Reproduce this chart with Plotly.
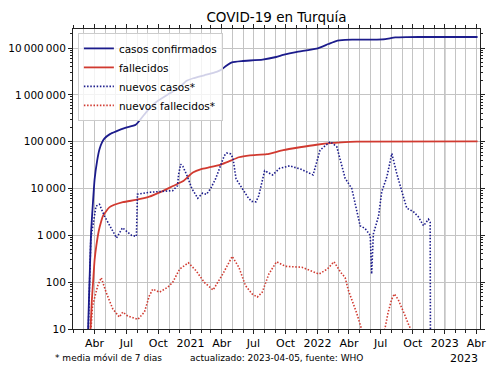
import plotly.graph_objects as go

# ---- data ----
cum_cases_dates = ["2020-03-13", "2020-03-16", "2020-03-19", "2020-03-22", "2020-03-26", "2020-04-01",
                   "2020-04-08", "2020-04-15", "2020-04-22", "2020-04-29", "2020-05-15", "2020-05-31",
                   "2020-06-30", "2020-07-28", "2020-08-28", "2020-09-26", "2020-11-03", "2020-12-01",
                   "2020-12-20", "2021-01-09", "2021-02-10", "2021-03-17", "2021-04-01", "2021-04-15",
                   "2021-04-30", "2021-05-29", "2021-07-27", "2021-09-04", "2021-09-24", "2021-10-31",
                   "2021-12-29", "2022-02-01", "2022-02-23", "2022-03-21", "2022-04-10", "2022-06-20",
                   "2022-07-14", "2022-08-12", "2022-09-15", "2022-11-20", "2023-04-05"]
cum_cases = [8, 47, 250, 1200, 3600, 15700,
             38000, 69000, 95000, 116000, 145000, 164000,
             199000, 229000, 435000, 710000, 1080000, 1450000,
             1980000, 2260000, 2620000, 3100000, 3500000, 4250000,
             4950000, 5270000, 5650000, 6430000, 7100000, 8200000,
             9700000, 12200000, 14100000, 14850000, 15050000, 15100000,
             15400000, 16900000, 17150000, 17200000, 17200000]

cum_deaths_dates = ["2020-03-20", "2020-03-24", "2020-03-28", "2020-04-01", "2020-04-06", "2020-04-13",
                    "2020-04-20", "2020-04-25", "2020-05-14", "2020-06-21", "2020-07-28", "2020-09-05",
                    "2020-10-10", "2020-11-12", "2020-12-10", "2021-01-08", "2021-02-01", "2021-02-26",
                    "2021-03-29", "2021-04-20", "2021-05-20", "2021-06-21", "2021-08-08", "2021-09-24",
                    "2021-11-11", "2021-12-29", "2022-02-15", "2022-03-21", "2022-04-04", "2022-05-10",
                    "2023-04-05"]
cum_deaths = [9, 40, 110, 300, 600, 1250,
              2000, 2600, 4000, 5100, 5700, 6700,
              8600, 11300, 14200, 22000, 26000, 28500,
              32500, 37500, 46500, 51000, 54000, 66000,
              76000, 86000, 94000, 98000, 99500, 100500,
              101500]

new_cases_dates = ["2020-03-13", "2020-03-21", "2020-04-05", "2020-04-15", "2020-04-29", "2020-05-15",
                   "2020-06-03", "2020-06-20", "2020-07-01", "2020-07-16", "2020-07-30", "2020-08-02",
                   "2020-09-05", "2020-10-04", "2020-11-11", "2020-11-25", "2020-11-28", "2020-12-04",
                   "2020-12-10", "2020-12-22", "2021-01-05", "2021-01-22", "2021-02-05", "2021-02-16",
                   "2021-02-28", "2021-03-14", "2021-03-28", "2021-04-08", "2021-04-15", "2021-04-26",
                   "2021-05-03", "2021-05-12", "2021-05-23", "2021-06-16", "2021-06-26", "2021-07-08",
                   "2021-07-16", "2021-07-23", "2021-08-02", "2021-08-25", "2021-09-14", "2021-10-13",
                   "2021-11-16", "2021-12-19", "2022-01-08", "2022-02-06", "2022-02-25", "2022-03-21",
                   "2022-04-09", "2022-05-03", "2022-05-17", "2022-06-01", "2022-06-05", "2022-06-10",
                   "2022-06-25", "2022-07-04", "2022-07-19", "2022-08-02", "2022-08-16", "2022-09-04",
                   "2022-09-14", "2022-10-03", "2022-10-17", "2022-11-01", "2022-11-15", "2022-11-20",
                   "2022-11-21"]
new_cases = [5, 830, 4200, 4600, 2600, 1600,
             880, 1450, 1250, 1000, 950, 7600,
             8300, 8700, 9000, 11500, 20000, 33000,
             30000, 19000, 10000, 6200, 8000, 7500,
             10000, 16000, 30000, 50000, 57000, 55000,
             45000, 16000, 12000, 6300, 5300, 5200,
             7000, 11000, 24000, 19500, 27000, 30500,
             25500, 19500, 66000, 100000, 78000, 16500,
             10000, 1600, 1400, 1000, 150, 1070,
             2600, 8500, 18000, 56000, 21000, 6700,
             3800, 3200, 2500, 1600, 2200, 1900,
             1]

new_deaths_dates = ["2020-03-19", "2020-03-26", "2020-04-10", "2020-04-20", "2020-05-04", "2020-05-23",
                    "2020-06-11", "2020-06-21", "2020-07-05", "2020-08-03", "2020-08-22", "2020-09-05",
                    "2020-09-15", "2020-10-04", "2020-10-28", "2020-11-11", "2020-12-01", "2020-12-26",
                    "2021-01-17", "2021-02-10", "2021-03-07", "2021-04-05", "2021-05-01", "2021-05-20",
                    "2021-06-08", "2021-06-27", "2021-07-12", "2021-07-26", "2021-08-14", "2021-09-05",
                    "2021-10-01", "2021-11-17", "2022-01-05", "2022-01-29", "2022-02-17", "2022-03-08",
                    "2022-03-21", "2022-03-30", "2022-04-23", "2022-05-07", "2022-05-18", "2022-07-03",
                    "2022-07-13", "2022-07-22", "2022-08-01", "2022-08-09", "2022-08-20", "2022-08-28",
                    "2022-09-08", "2022-09-20", "2022-09-28", "2022-10-08"]
new_deaths = [5, 31, 84, 125, 61, 27,
              18, 23, 19, 16, 23, 51,
              71, 61, 78, 99, 190, 260,
              176, 99, 68, 155, 355, 208,
              84, 56, 48, 61, 149, 273,
              218, 208, 149, 191, 273, 163,
              125, 68, 22, 10, 3, 3,
              10, 22, 42, 56, 43, 30,
              20, 12, 9, 3]

x_tick_vals = ["2020-04-01", "2020-07-01", "2020-10-01", "2021-01-01", "2021-04-01", "2021-07-01",
               "2021-10-01", "2022-01-01", "2022-04-01", "2022-07-01", "2022-10-01", "2023-01-01",
               "2023-04-01"]
x_tick_text = ["Abr", "Jul", "Oct", "2021", "Abr", "Jul", "Oct", "2022", "Abr", "Jul", "Oct", "2023", "Abr"]
year_lines = ["2021-01-01", "2022-01-01", "2023-01-01"]

y_tick_vals = [10, 100, 1000, 10000, 100000, 1000000, 10000000]
y_tick_text = ["10", "100", "1\u2009000", "10\u2009000", "100\u2009000", "1\u2009000\u2009000",
               "10\u2009000\u2009000"]

# ---- styling ----
BLUE = "#1c1c8c"
RED = "#d13a30"
FONT = "DejaVu Sans"
AX = "#222222"
GRID = "#c4c4c4"
DOT = "1.5px,1.7px"
PAGE_OFFSET = 8  # the html page body adds an 8px margin

month_vals = []
for yr in (2020, 2021, 2022, 2023):
    for m in range(1, 13):
        month_vals.append(f"{yr}-{m:02d}-01")

minor_y = [k * 10 ** e for e in range(1, 8) for k in range(2, 10)]

fig = go.Figure()
fig.add_trace(go.Scatter(x=cum_cases_dates, y=cum_cases, mode="lines", name="casos confirmados",
                         line=dict(color=BLUE, width=1.8, shape="spline", smoothing=0.5)))
fig.add_trace(go.Scatter(x=cum_deaths_dates, y=cum_deaths, mode="lines", name="fallecidos",
                         line=dict(color=RED, width=1.8, shape="spline", smoothing=0.5)))
fig.add_trace(go.Scatter(x=new_cases_dates, y=new_cases, mode="lines", name="nuevos casos*",
                         line=dict(color=BLUE, width=1.6, dash=DOT)))
fig.add_trace(go.Scatter(x=new_deaths_dates, y=new_deaths, mode="lines", name="nuevos fallecidos*",
                         line=dict(color=RED, width=1.6, dash=DOT)))

for d in year_lines:
    fig.add_shape(type="line", xref="x", yref="paper", x0=d, x1=d, y0=0, y1=1,
                  line=dict(color="#9a9a9a", width=1.2), layer="below")

fig.update_layout(
    width=500, height=375, autosize=False,
    margin=dict(l=73 - PAGE_OFFSET, r=20 + PAGE_OFFSET, t=29 - PAGE_OFFSET, b=46 + PAGE_OFFSET,
                pad=0, autoexpand=False),
    paper_bgcolor="white", plot_bgcolor="white",
    font=dict(family=FONT, color="black", size=11),
    title=dict(text="COVID-19 en Turquía", x=0.5, xref="paper", xanchor="center",
               y=1 - (17 - PAGE_OFFSET) / 375, yref="container", yanchor="middle",
               font=dict(family=FONT, size=13.5, color="black")),
    showlegend=True,
    legend=dict(x=0.012, y=0.987, xanchor="left", yanchor="top",
                bgcolor="rgba(255,255,255,0.8)", bordercolor="#cccccc", borderwidth=1,
                font=dict(family=FONT, size=10.5, color="black"), tracegroupgap=0),
    xaxis=dict(type="date", range=["2020-01-30", "2023-04-12"], automargin=False,
               tickmode="array", tickvals=x_tick_vals, ticktext=x_tick_text,
               ticks="outside", ticklen=4, tickcolor=AX, tickwidth=1,
               showgrid=False, zeroline=False,
               showline=True, linecolor=AX, linewidth=1, mirror="ticks",
               tickfont=dict(family=FONT, size=11, color="black"),
               minor=dict(tickmode="array", tickvals=month_vals, ticks="outside", ticklen=3,
                          tickcolor=AX, showgrid=True, gridcolor=GRID, gridwidth=1)),
    yaxis=dict(type="log", range=[1, 7.406], automargin=False,
               tickmode="array", tickvals=y_tick_vals, ticktext=y_tick_text,
               ticks="outside", ticklen=4, tickcolor=AX, tickwidth=1,
               showgrid=True, gridcolor=GRID, gridwidth=1, zeroline=False,
               showline=True, linecolor=AX, linewidth=1, mirror="ticks",
               tickfont=dict(family=FONT, size=10.5, color="black"),
               minor=dict(tickmode="array", tickvals=minor_y, ticks="outside", ticklen=2,
                          tickcolor=AX, showgrid=False)),
    annotations=[
        dict(text="* media móvil de 7 dias", xref="paper", yref="paper",
             x=(53 - 73) / 407, y=(329 - 358) / 300, xanchor="left", yanchor="middle",
             showarrow=False, font=dict(family=FONT, size=9, color="black")),
        dict(text="actualizado: 2023-04-05, fuente: WHO", xref="paper", yref="paper",
             x=(188 - 73) / 407, y=(329 - 358) / 300, xanchor="left", yanchor="middle",
             showarrow=False, font=dict(family=FONT, size=9, color="black")),
        dict(text="2023", xref="paper", yref="paper",
             x=1.0, y=(329 - 358) / 300, xanchor="right", yanchor="middle",
             showarrow=False, font=dict(family=FONT, size=11, color="black")),
    ],
)

fig.write_html("out.html")
